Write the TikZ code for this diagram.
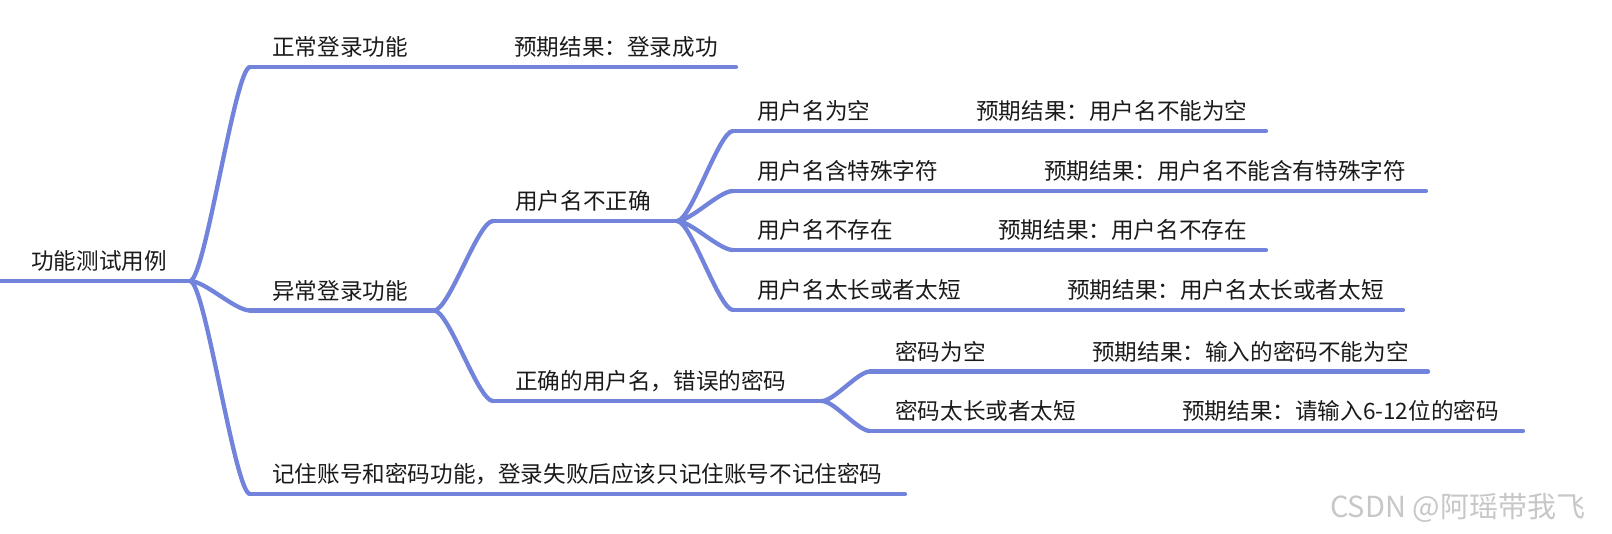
\documentclass[tikz,border=0pt]{standalone}
\usepackage{fontspec}
\newfontfamily\cjk{Noto Sans CJK SC}
\definecolor{br}{RGB}{114,131,219}
\definecolor{txt}{RGB}{26,26,26}
\tikzset{
  topic/.style={anchor=base west, inner sep=0pt, text=txt, font=\cjk\fontsize{22.6}{27}\selectfont},
  branch/.style={draw=br, line width=4.3pt, line cap=round},
  wm/.style={anchor=west, inner sep=0pt, text=black!22, font=\cjk\fontsize{29}{33}\selectfont}
}
\begin{document}
\begin{tikzpicture}[x=1pt,y=-1pt]
\useasboundingbox (0,0) rectangle (1612,533);
% coordinates of line starts/ends
\coordinate (root-s) at (0,281);   \coordinate (root-e) at (190,281);
\coordinate (A-s) at (250,67);     \coordinate (A-e) at (422,67);   \coordinate (RA-e) at (736,67);
\coordinate (B-s) at (250,310.5);  \coordinate (B-e) at (434,310.5);
\coordinate (C-s) at (250,494);    \coordinate (C-e) at (905,494);
\coordinate (B1-s) at (493,221);   \coordinate (B1-e) at (677,221);
\coordinate (B2-s) at (493,401);   \coordinate (B2-e) at (822,401);
\coordinate (U1-s) at (733,131);   \coordinate (U1-e) at (885,131);  \coordinate (R1-e) at (1266,131);
\coordinate (U2-s) at (733,191);   \coordinate (U2-e) at (953,191);  \coordinate (R2-e) at (1426,191);
\coordinate (U3-s) at (733,250);   \coordinate (U3-e) at (908,250);  \coordinate (R3-e) at (1266,250);
\coordinate (U4-s) at (733,310);   \coordinate (U4-e) at (975,310);  \coordinate (R4-e) at (1403,310);
\coordinate (P1-s) at (870,371.5); \coordinate (P1-e) at (1000,371.5); \coordinate (RP1-e) at (1428,371.5);
\coordinate (P2-s) at (870,431);   \coordinate (P2-e) at (1091,431); \coordinate (RP2-e) at (1523,431);

% texts
\node[topic] (root) at (31,269.5) {功能测试用例};
\node[topic] (A) at (272,55.5) {正常登录功能};
\node[topic] (RA) at (514,55.5) {预期结果：登录成功};
\node[topic] (B) at (272,299) {异常登录功能};
\node[topic] (C) at (272,482.5) {记住账号和密码功能，登录失败后应该只记住账号不记住密码};
\node[topic] (B1) at (515,209.5) {用户名不正确};
\node[topic] (B2) at (515,389.5) {正确的用户名，错误的密码};
\node[topic] (U1) at (757,119.5) {用户名为空};
\node[topic] (R1) at (976,119.5) {预期结果：用户名不能为空};
\node[topic] (U2) at (757,179.5) {用户名含特殊字符};
\node[topic] (R2) at (1044,179.5) {预期结果：用户名不能含有特殊字符};
\node[topic] (U3) at (757,238.5) {用户名不存在};
\node[topic] (R3) at (998,238.5) {预期结果：用户名不存在};
\node[topic] (U4) at (757,298.5) {用户名太长或者太短};
\node[topic] (R4) at (1067,298.5) {预期结果：用户名太长或者太短};
\node[topic] (P1) at (895,360) {密码为空};
\node[topic] (RP1) at (1092,360) {预期结果：输入的密码不能为空};
\node[topic] (P2) at (895,419.5) {密码太长或者太短};
\node[topic] (RP2) at (1182,419.5) {预期结果：请输入6-12位的密码};
\node[wm] (wm) at (1330,508) {CSDN @阿瑶带我飞};

% underlines
\draw[branch] (root-s) -- (root-e);
\draw[branch] (A-s) -- (A-e) -- (RA-e);
\draw[branch] (B-s) -- (B-e);
\draw[branch] (C-s) -- (C-e);
\draw[branch] (B1-s) -- (B1-e);
\draw[branch] (B2-s) -- (B2-e);
\draw[branch] (U1-s) -- (U1-e) -- (R1-e);
\draw[branch] (U2-s) -- (U2-e) -- (R2-e);
\draw[branch] (U3-s) -- (U3-e) -- (R3-e);
\draw[branch] (U4-s) -- (U4-e) -- (R4-e);
\draw[branch] (P1-s) -- (P1-e) -- (RP1-e);
\draw[branch] (P2-s) -- (P2-e) -- (RP2-e);

% connectors
\foreach \c in {A,B,C}
  \draw[branch] (root-e) .. controls +(15,0) and +(-15,0) .. (\c-s);
\foreach \c in {B1,B2}
  \draw[branch] (B-e) .. controls +(15,0) and +(-15,0) .. (\c-s);
\foreach \c in {U1,U2,U3,U4}
  \draw[branch] (B1-e) .. controls +(14,0) and +(-14,0) .. (\c-s);
\foreach \c in {P1,P2}
  \draw[branch] (B2-e) .. controls +(12,0) and +(-12,0) .. (\c-s);
\end{tikzpicture}
\end{document}
